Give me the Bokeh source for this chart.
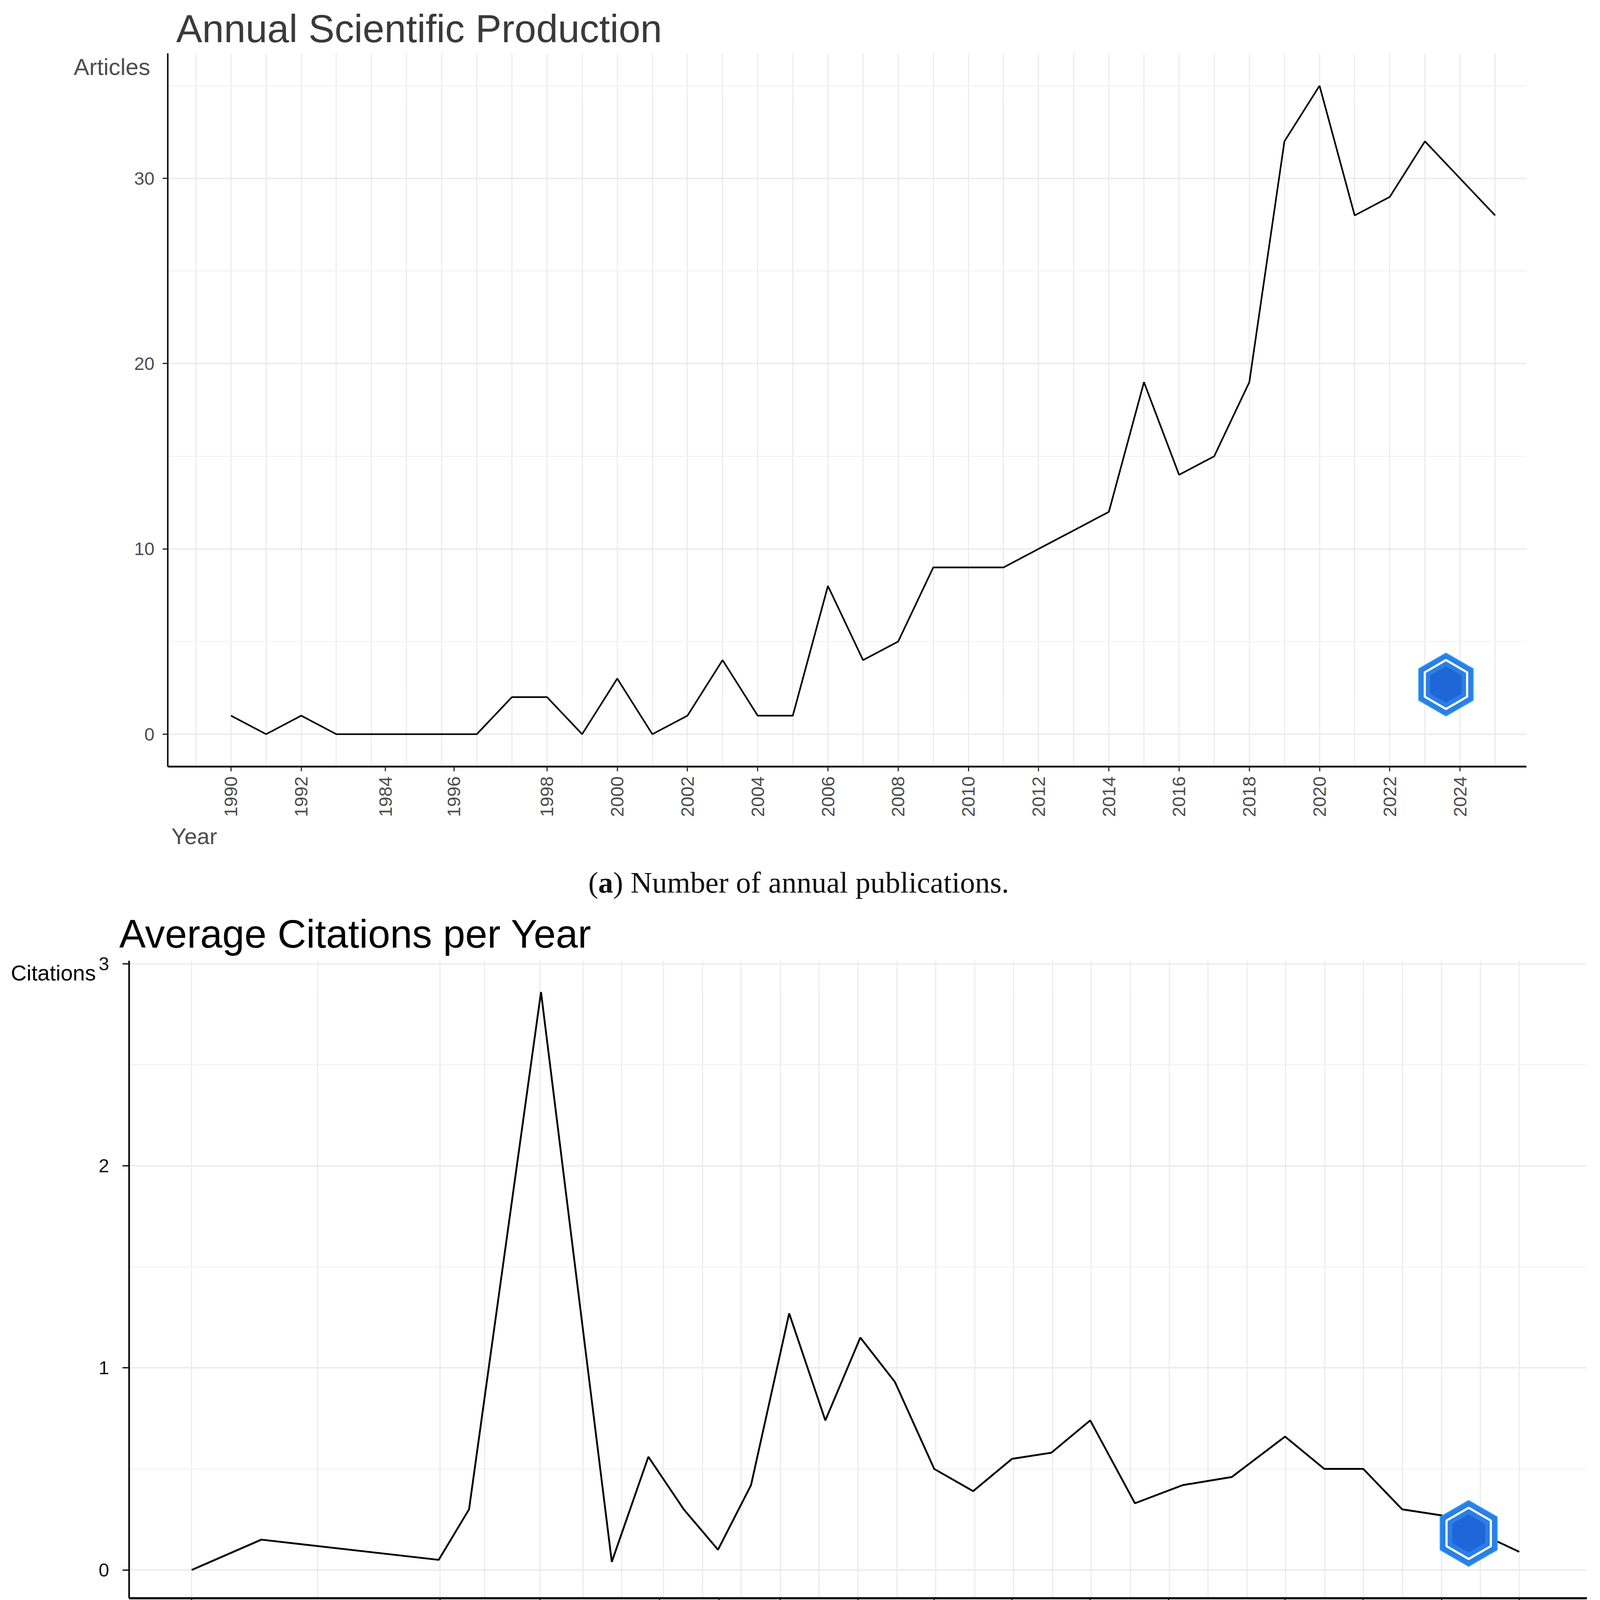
import math
from bokeh.plotting import figure
from bokeh.models import Range1d, FixedTicker, Div, Title, LinearAxis
from bokeh.layouts import column
from bokeh.embed import file_html
from bokeh.resources import INLINE

# ---------------- (a) Annual Scientific Production ----------------
pub_years = [1989, 1990, 1991, 1992, 1993, 1994, 1995, 1996, 1997, 1998,
             1999, 2000, 2001, 2002, 2003, 2004, 2005, 2006, 2007, 2008,
             2009, 2010, 2011, 2012, 2013, 2014, 2015, 2016, 2017, 2018,
             2019, 2020, 2021, 2022, 2023, 2024, 2025]
pub_counts = [1, 0, 1, 0, 0, 0, 0, 0, 2, 2,
              0, 3, 0, 1, 4, 1, 1, 8, 4, 5,
              9, 9, 9, 10, 11, 12, 19, 14, 15, 19,
              32, 35, 28, 29, 32, 30, 28]
pub_tick_pos = [1989, 1991, 1993.4, 1995.35, 1998, 2000, 2002, 2004, 2006,
                2008, 2010, 2012, 2014, 2016, 2018, 2020, 2022, 2024]
pub_tick_labels = ["1990", "1992", "1984", "1996", "1998", "2000", "2002",
                   "2004", "2006", "2008", "2010", "2012", "2014", "2016",
                   "2018", "2020", "2022", "2024"]
pub_grid_pos = [1988, 1989, 1990, 1991, 1992, 1993, 1994, 1995, 1996, 1997,
                1998, 1999, 2000, 2001, 2002, 2003, 2004, 2005, 2006, 2007,
                2008, 2009, 2010, 2011, 2012, 2013, 2014, 2015, 2016, 2017,
                2018, 2019, 2020, 2021, 2022, 2023, 2024, 2025]
pub_y_ticks = [0, 10, 20, 30]
pub_y_minor = [5, 15, 25, 35]

# ---------------- (b) Average Citations per Year ----------------
cite_pos = [1989.87, 1991.66, 1996.22, 1997.0, 1998.85, 2000.67, 2001.61,
            2002.52, 2003.4, 2004.25, 2005.23, 2006.16, 2007.06, 2007.95,
            2008.96, 2009.96, 2010.96, 2011.97, 2012.97, 2014.12, 2015.35,
            2016.61, 2017.98, 2018.99, 2019.99, 2020.99, 2022.0, 2023.0, 2024.0]
cite_vals = [0.0, 0.15, 0.05, 0.30, 2.86, 0.04, 0.56,
             0.30, 0.10, 0.42, 1.27, 0.74, 1.15, 0.93,
             0.50, 0.39, 0.55, 0.58, 0.74, 0.33, 0.42,
             0.46, 0.66, 0.50, 0.50, 0.30, 0.27, 0.18, 0.09]
cite_tick_pos = [1989.87, 1996.25, 1998.83, 2001.9, 2003.42, 2005.0, 2007.0,
                 2008.96, 2010.96, 2012.97, 2014.98, 2017.98, 2019.99, 2022.0, 2024.0]
cite_tick_labels = ["1993", "1997", "2000", "2004", "2005", "2007", "2009",
                    "2011", "2013", "2015", "2017", "2019", "2021", "2023", "2024"]
cite_grid_pos = [1989.87, 1993.11, 1996.25, 1997.4, 1998.83, 1999.93, 2000.92,
                 2002, 2003, 2004, 2005, 2006, 2007, 2008, 2009, 2010, 2011,
                 2012, 2013, 2014, 2015, 2016, 2017, 2018, 2019, 2020, 2021,
                 2022, 2023, 2024]
cite_y_ticks = [0, 1, 2, 3]
cite_y_minor = [0.5, 1.5, 2.5]

FONT = "Liberation Sans"
S = 14.0 / 15.0          # page px per picture px


def s(v):
    return v * S


def px(v):
    return "%.1fpx" % s(v)


W = int(round(s(4370)))


def style_common(p):
    p.outline_line_color = None
    p.background_fill_color = "white"
    p.border_fill_color = "white"
    p.xaxis.minor_tick_line_color = None
    p.yaxis.minor_tick_line_color = None
    p.xaxis.major_tick_in = 0
    p.yaxis.major_tick_in = 0


def corner_axis(p, pos, text, size, color, standoff):
    """Second left axis carrying a single horizontal label (the axis name)."""
    ax = LinearAxis(ticker=FixedTicker(ticks=[pos], minor_ticks=[]),
                    major_label_overrides={pos: text},
                    axis_line_color=None, major_tick_line_color=None,
                    minor_tick_line_color=None, major_tick_out=0, major_tick_in=0,
                    major_label_standoff=int(round(standoff)),
                    major_label_text_font=FONT, major_label_text_font_size=size,
                    major_label_text_color=color)
    p.add_layout(ax, "left")


def logo(p, x, y, size):
    p.scatter([x], [y], marker="hex", size=s(size), angle=math.pi / 2,
              fill_color="#2a7fe6", line_color="#2f9cf0", line_width=s(3))
    p.scatter([x], [y], marker="hex", size=s(size * 0.78), angle=math.pi / 2,
              fill_color=None, line_color="white", line_width=s(6))
    p.scatter([x], [y], marker="hex", size=s(size * 0.58), angle=math.pi / 2,
              fill_color="#1f66d8", line_color=None)


# ================= figure (a) =================
A_H = int(round(s(2370) - 8))
A_left = int(round(s(468) - 8))
A_top = int(round(s(154) - 8))
A_fw = int(round(s(3726)))
A_fh = int(round(s(1956)))
pa_x0, pa_x1 = 1987.2, 2025.89
pa_y0, pa_y1 = -1.75, 36.75
pa = figure(frame_width=A_fw, frame_height=A_fh,
            min_border_left=A_left, min_border_right=W - A_left - A_fw,
            min_border_top=A_top, min_border_bottom=A_H - A_top - A_fh,
            x_range=Range1d(pa_x0, pa_x1), y_range=Range1d(pa_y0, pa_y1),
            output_backend="svg", toolbar_location=None,
            title="Annual Scientific Production")
style_common(pa)
pa.title.text_font = FONT
pa.title.text_font_size = px(107)
pa.title.text_font_style = "normal"
pa.title.text_color = "#3a3a3a"
pa.title.align = "left"
pa.title.offset = s(23)
pa.title.standoff = s(16)

pa.xaxis.ticker = FixedTicker(ticks=pub_tick_pos, minor_ticks=[])
pa.xaxis.major_label_overrides = dict(zip(pub_tick_pos, pub_tick_labels))
pa.xaxis.major_label_orientation = math.pi / 2
pa.xaxis.major_label_text_font = FONT
pa.xaxis.major_label_text_font_size = px(50)
pa.xaxis.major_label_text_color = "#4d4d4d"
pa.xaxis.major_label_standoff = int(round(s(14)))
pa.xaxis.major_tick_out = int(round(s(13)))
pa.xaxis.major_tick_line_width = s(3)
pa.xaxis.major_tick_line_color = "#222222"
pa.xaxis.axis_line_width = s(5)
pa.xaxis.axis_line_color = "black"

pa.yaxis.ticker = FixedTicker(ticks=pub_y_ticks, minor_ticks=pub_y_minor)
pa.yaxis.major_label_text_font = FONT
pa.yaxis.major_label_text_font_size = px(50)
pa.yaxis.major_label_text_color = "#4d4d4d"
pa.yaxis.major_label_standoff = int(round(s(22)))
pa.yaxis.major_tick_out = int(round(s(14)))
pa.yaxis.major_tick_line_width = s(3)
pa.yaxis.major_tick_line_color = "#222222"
pa.yaxis.axis_line_width = s(4)
pa.yaxis.axis_line_color = "black"

pa.xgrid.ticker = FixedTicker(ticks=pub_grid_pos)
pa.xgrid.grid_line_color = "#ebebeb"
pa.xgrid.grid_line_width = s(3)
pa.ygrid.grid_line_color = "#ebebeb"
pa.ygrid.grid_line_width = s(4)
pa.ygrid.minor_grid_line_color = "#f2f2f2"
pa.ygrid.minor_grid_line_width = s(2.5)

pa.line(pub_years, pub_counts, line_color="black", line_width=s(4.5))
logo(pa, 2023.6, 2.68, 172)

corner_axis(pa, 36.02, "Articles", px(64), "#4d4d4d", -44)
pa.add_layout(Title(text="Year", align="left", offset=s(10), standoff=25,
                    text_font=FONT, text_font_size=px(62), text_font_style="normal",
                    text_color="#4d4d4d"), "below")

cap_style = {"text-align": "center", "font-family": "'Liberation Serif', 'DejaVu Serif', serif",
             "font-size": px(82), "color": "#111111", "width": "%dpx" % W}
DA_H = 99
da = Div(text="(<b>a</b>) Number of annual publications.", width=W, height=DA_H,
         styles=dict(cap_style, **{"line-height": "102px"}))

# ================= figure (b) =================
B_H = 1907
B_left = int(round(s(362) - 8))
B_top = 146
B_fw = int(round(s(3999)))
B_fh = int(round(s(1749)))
pb_x0, pb_x1 = 1988.26, 2025.74
pb_y0, pb_y1 = -0.14, 3.015
pb = figure(frame_width=B_fw, frame_height=B_fh,
            min_border_left=B_left, min_border_right=W - B_left - B_fw,
            min_border_top=B_top, min_border_bottom=B_H - B_top - B_fh,
            x_range=Range1d(pb_x0, pb_x1), y_range=Range1d(pb_y0, pb_y1),
            output_backend="svg", toolbar_location=None,
            title="Average Citations per Year")
style_common(pb)
pb.title.text_font = FONT
pb.title.text_font_size = px(109)
pb.title.text_font_style = "normal"
pb.title.text_color = "black"
pb.title.align = "left"
pb.title.offset = s(-27)
pb.title.standoff = 24

pb.xaxis.ticker = FixedTicker(ticks=cite_tick_pos, minor_ticks=[])
pb.xaxis.major_label_overrides = dict(zip(cite_tick_pos, cite_tick_labels))
pb.xaxis.major_label_text_font = FONT
pb.xaxis.major_label_text_font_size = px(40)
pb.xaxis.major_label_text_color = "#111111"
pb.xaxis.major_label_standoff = int(round(s(5)))
pb.xaxis.major_tick_out = int(round(s(14)))
pb.xaxis.major_tick_line_width = s(3)
pb.xaxis.major_tick_line_color = "black"
pb.xaxis.axis_line_width = s(6)
pb.xaxis.axis_line_color = "black"

pb.yaxis.ticker = FixedTicker(ticks=cite_y_ticks, minor_ticks=cite_y_minor)
pb.yaxis.major_label_text_font = FONT
pb.yaxis.major_label_text_font_size = px(52)
pb.yaxis.major_label_text_color = "#111111"
pb.yaxis.major_label_standoff = int(round(s(36)))
pb.yaxis.major_tick_out = int(round(s(18)))
pb.yaxis.major_tick_line_width = s(3)
pb.yaxis.major_tick_line_color = "black"
pb.yaxis.axis_line_width = s(4.5)
pb.yaxis.axis_line_color = "black"

pb.xgrid.ticker = FixedTicker(ticks=cite_grid_pos)
pb.xgrid.grid_line_color = "#ebebeb"
pb.xgrid.grid_line_width = s(3)
pb.ygrid.grid_line_color = "#ebebeb"
pb.ygrid.grid_line_width = s(4)
pb.ygrid.minor_grid_line_color = "#f2f2f2"
pb.ygrid.minor_grid_line_width = s(2.5)

pb.line(cite_pos, cite_vals, line_color="black", line_width=s(5))
logo(pb, 2022.7, 0.181, 180)

corner_axis(pb, 2.955, "Citations", px(60), "black", 4)
pb.add_layout(Title(text="Year", align="left", offset=s(-27), standoff=0,
                    text_font=FONT, text_font_size=px(59), text_font_style="normal",
                    text_color="black"), "below")

db = Div(text="(<b>b</b>) Number of annual citations.", width=W, height=94,
         styles=dict(cap_style, **{"line-height": "113px"}))

# two separate roots so that the two plot frames are not aligned to each other
roots = [column(pa, da, spacing=0), column(pb, db, spacing=0)]

with open("out.html", "w") as f:
    f.write(file_html(roots, INLINE, title="Annual Scientific Production"))
